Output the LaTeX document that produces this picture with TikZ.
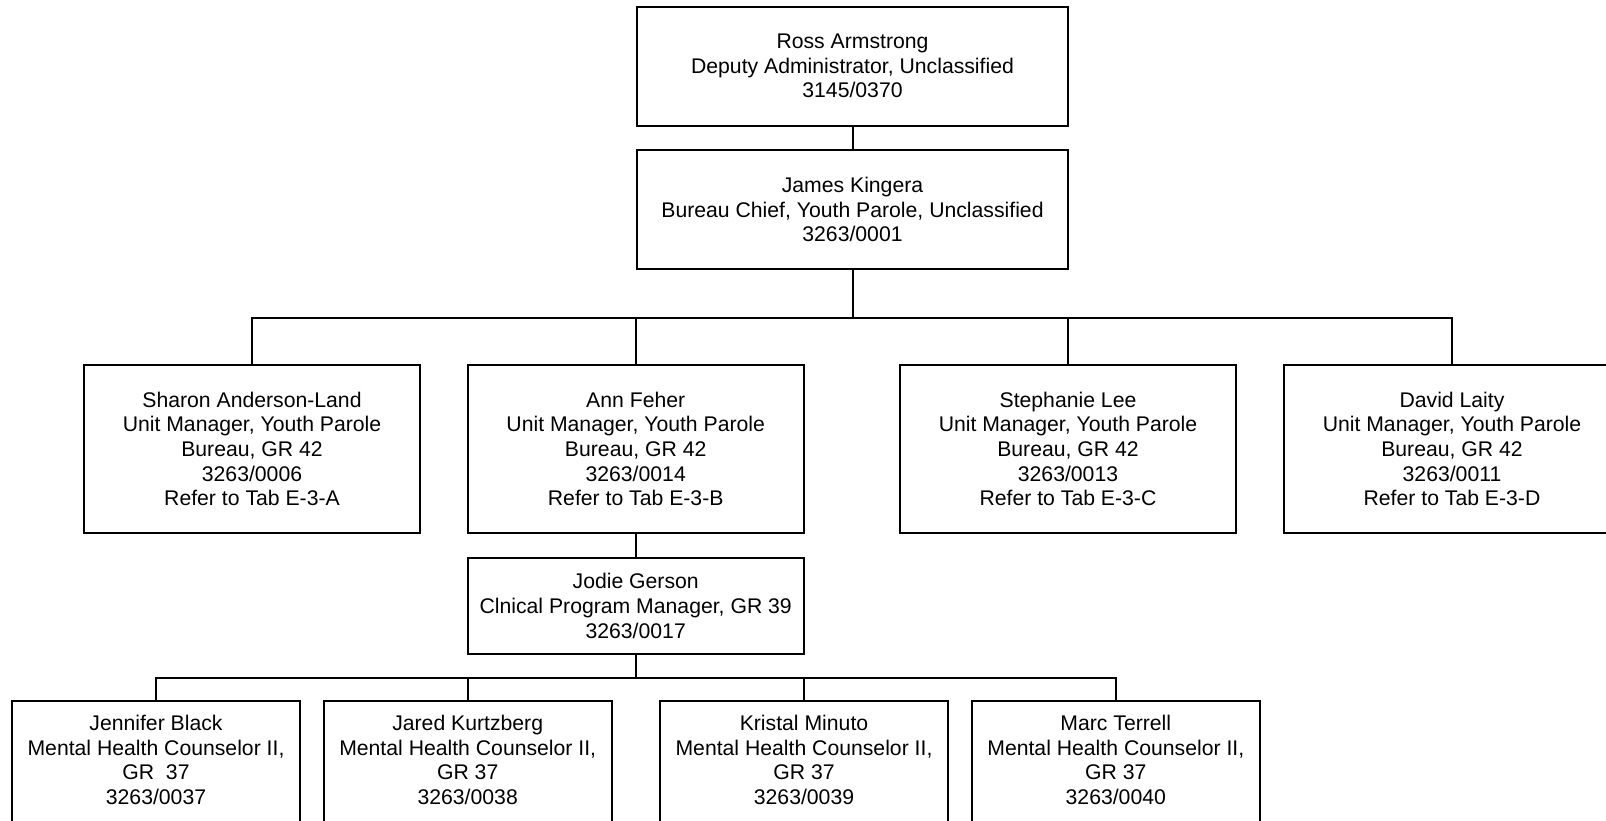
\documentclass[tikz,border=0pt]{standalone}
\usepackage{fontspec}
\setmainfont{Liberation Sans}
\tikzset{post/.style={draw, line width=1pt, align=center, inner sep=0pt, font=\fontsize{10.6}{12.3}\selectfont},
	chief/.style={post, minimum width=215.5pt, minimum height=59.5pt},
	unit/.style={post, minimum width=168pt, minimum height=84.25pt},
	clin/.style={post, minimum width=168pt, minimum height=48.2pt},
	staff/.style={post, minimum width=144pt, minimum height=62pt, execute at end node={\rule[-3pt]{0pt}{0pt}}},
	link/.style={line width=1pt}}

\begin{document}
\begin{tikzpicture}[x=0.5pt, y=-0.5pt]

					\useasboundingbox (0,0) rectangle (1606,820);
					\clip (0,0) rectangle (1606,820);

					\node[chief] (ross) at (852.5,66) {Ross Armstrong\\Deputy Administrator, Unclassified\\3145/0370};
					\node[chief] (james) at (852.5,209.5) {James Kingera\\Bureau Chief, Youth Parole, Unclassified\\3263/0001};
					\coordinate (bar1) at (852.5,317.5);

					\node[unit] (sharon) at (252,449) {Sharon Anderson-Land\\Unit Manager, Youth Parole\\Bureau, GR 42\\3263/0006\\Refer to Tab E-3-A};
					\node[unit] (ann) at (635.7,449) {Ann Feher\\Unit Manager, Youth Parole\\Bureau, GR 42\\3263/0014\\Refer to Tab E-3-B};
					\node[unit] (stephanie) at (1068,449) {Stephanie Lee\\Unit Manager, Youth Parole\\Bureau, GR 42\\3263/0013\\Refer to Tab E-3-C};
					\node[unit] (david) at (1452,449) {David Laity\\Unit Manager, Youth Parole\\Bureau, GR 42\\3263/0011\\Refer to Tab E-3-D};

					\node[clin] (jodie) at (635.7,606) {Jodie Gerson\\Clnical Program Manager, GR 39\\3263/0017};
					\coordinate (bar2) at (635.7,677.7);

					\node[staff] (jennifer) at (156,763) {Jennifer Black\\Mental Health Counselor II,\\GR~~37\\3263/0037};
					\node[staff] (jared) at (467.7,763) {Jared Kurtzberg\\Mental Health Counselor II,\\GR 37\\3263/0038};
					\node[staff] (kristal) at (804,763) {Kristal Minuto\\Mental Health Counselor II,\\GR 37\\3263/0039};
					\node[staff] (marc) at (1115.8,763) {Marc Terrell\\Mental Health Counselor II,\\GR 37\\3263/0040};

					\draw[link] (ross) -- (james);
					\draw[link] (james) -- (bar1);
					\foreach \who in {sharon, ann, stephanie, david}
						\draw[link] (bar1) -| (\who.north);
					\draw[link] (ann) -- (jodie);
					\draw[link] (jodie) -- (bar2);
					\foreach \who in {jennifer, jared, kristal, marc}
						\draw[link] (bar2) -| (\who.north);

\end{tikzpicture}
\end{document}
